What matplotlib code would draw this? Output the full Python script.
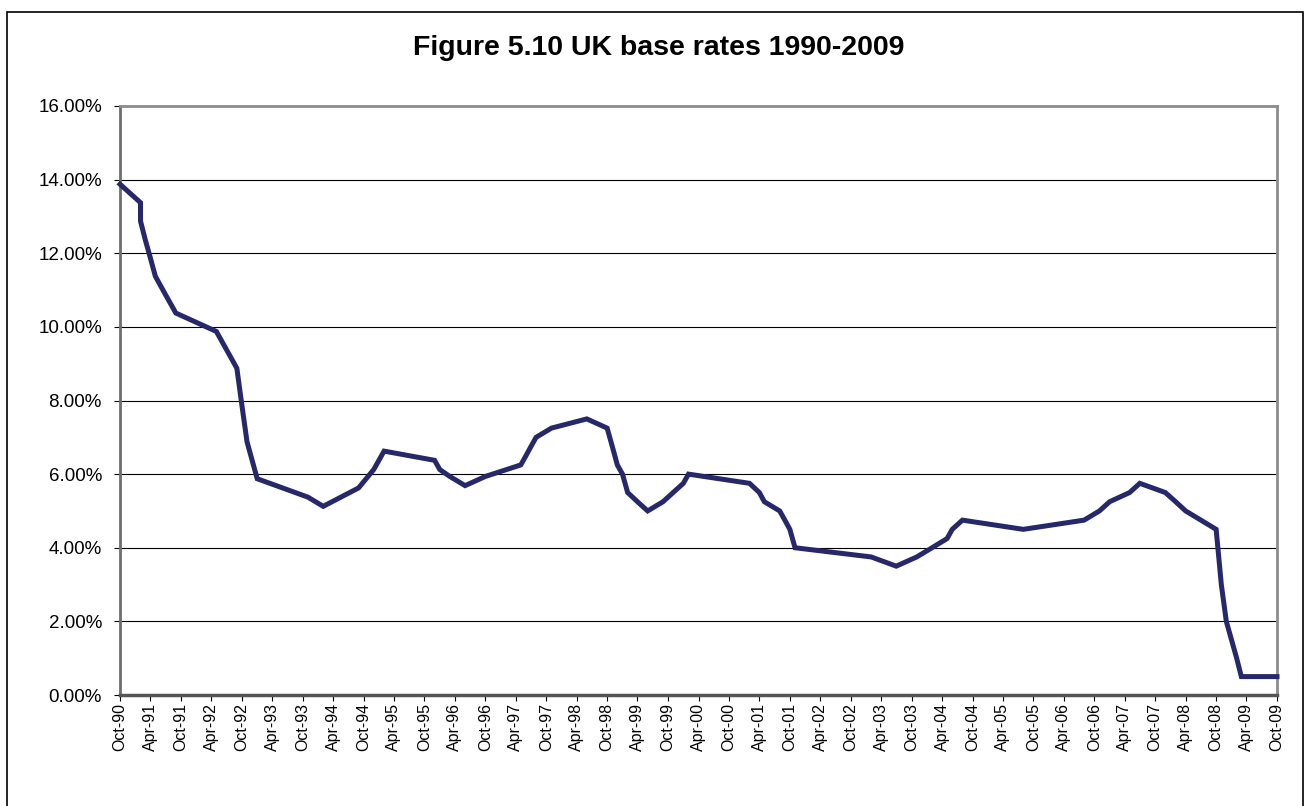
import numpy as np
import matplotlib
matplotlib.use('Agg')
from matplotlib import pyplot as plt
import matplotlib.dates as mdates
from matplotlib.patches import Rectangle
from matplotlib.ticker import FuncFormatter, MultipleLocator

# rate changes, dated to the month they happened
months = ["1990-10", "1991-02", "1991-02", "1991-03", "1991-04", "1991-05",
          "1991-07", "1991-09", "1992-05", "1992-09", "1992-10", "1992-11",
          "1993-01", "1993-11", "1994-02", "1994-09", "1994-12", "1995-02",
          "1995-12", "1996-01", "1996-03", "1996-06", "1996-10", "1997-05",
          "1997-06", "1997-07", "1997-08", "1997-11", "1998-06", "1998-10",
          "1998-11", "1998-12", "1999-01", "1999-02", "1999-04", "1999-06",
          "1999-09", "1999-11", "2000-01", "2000-02", "2001-02", "2001-04",
          "2001-05", "2001-08", "2001-09", "2001-10", "2001-11", "2003-02",
          "2003-07", "2003-11", "2004-02", "2004-05", "2004-06", "2004-08",
          "2005-08", "2006-08", "2006-11", "2007-01", "2007-05", "2007-07",
          "2007-12", "2008-02", "2008-04", "2008-10", "2008-11", "2008-12",
          "2009-01", "2009-02", "2009-03", "2009-10"]
rates = [13.875, 13.375, 12.875, 12.375, 11.875, 11.375,
         10.875, 10.375, 9.875, 8.875, 7.875, 6.875,
         5.875, 5.375, 5.125, 5.625, 6.125, 6.625,
         6.375, 6.125, 5.9375, 5.6875, 5.9375, 6.25,
         6.5, 6.75, 7.0, 7.25, 7.5, 7.25,
         6.75, 6.25, 6.0, 5.5, 5.25, 5.0,
         5.25, 5.5, 5.75, 6.0, 5.75, 5.5,
         5.25, 5.0, 4.75, 4.5, 4.0, 3.75,
         3.5, 3.75, 4.0, 4.25, 4.5, 4.75,
         4.5, 4.75, 5.0, 5.25, 5.5, 5.75,
         5.5, 5.25, 5.0, 4.5, 3.0, 2.0,
         1.5, 1.0, 0.5, 0.5]

title = 'Figure 5.10 UK base rates 1990-2009'

plt.rcParams['font.family'] = ['Liberation Sans', 'DejaVu Sans']

fig = plt.figure(figsize=(13.11, 8.06), dpi=100)
fig.patches.append(Rectangle((7/1311, -0.05), 1296/1311, 1.05 - 12/806,
                             transform=fig.transFigure, fill=False,
                             edgecolor='black', lw=1.2))
fig.text(0.5025, 1 - 48/806, title, ha='center', va='center',
         fontsize=20.5, fontweight='bold')

ax = fig.add_axes([120/1311, 111/806, 1157/1311, 589/806])
dates = np.array([np.datetime64(m + '-01') for m in months])
ax.plot(dates, rates, color='#27276b', lw=3.6, solid_joinstyle='miter',
        clip_on=False, zorder=3)

ax.set_xlim(np.datetime64('1990-10-01'), np.datetime64('2009-10-01'))
ax.set_ylim(0, 16)
ax.yaxis.set_major_locator(MultipleLocator(2))
ax.yaxis.set_major_formatter(FuncFormatter(lambda v, p: '%.2f%%' % v))
ax.xaxis.set_major_locator(mdates.MonthLocator(bymonth=[4, 10]))
ax.xaxis.set_major_formatter(mdates.DateFormatter('%b-%y'))
ax.grid(axis='y', color='black', lw=0.8)
ax.set_axisbelow(True)

for lab in ax.get_xticklabels():
    lab.set_rotation(90)
ax.tick_params(axis='x', direction='out', length=4, width=0.8,
               labelsize=11.5, pad=2)
ax.tick_params(axis='y', direction='out', length=4, width=0.8,
               labelsize=13.5, pad=9)

for s in ['top', 'right']:
    ax.spines[s].set_color('#8c8c8c')
    ax.spines[s].set_linewidth(2)
ax.spines['left'].set_color('#6e6e6e')
ax.spines['left'].set_linewidth(2)
ax.spines['bottom'].set_color('#555555')
ax.spines['bottom'].set_linewidth(2.5)

plt.savefig('out.png', dpi=100)
plt.close()
